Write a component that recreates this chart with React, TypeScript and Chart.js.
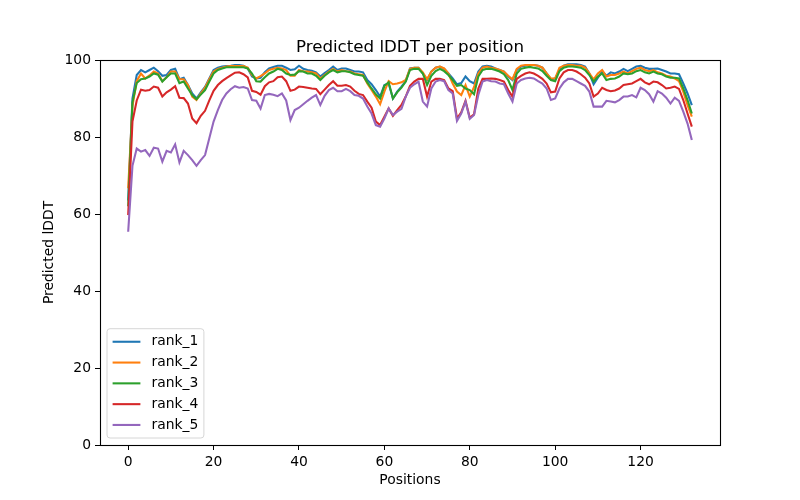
import React, { useEffect, useRef } from "react";
import { Chart, registerables } from "chart.js";

Chart.register(...registerables);

const chartTitle = "Predicted lDDT per position";
const seriesNames = ["rank_1", "rank_2", "rank_3", "rank_4", "rank_5"];
const seriesColors = ["#1f77b4", "#ff7f0e", "#2ca02c", "#d62728", "#9467bd"];

const rank1 = [
  63.5, 90, 96.1, 97.4, 96.8, 97.4, 98, 97.1, 95.9, 96.1, 97.4, 97.7, 95, 95.4, 93.5, 91.3, 90, 91.6, 93, 95.2,
  97.4, 98, 98.3, 98.4, 98.5, 98.7, 98.7, 98.5, 97.8, 95.7, 95.2, 95.4, 96.8, 97.8, 98.2, 98.5, 98.5, 98, 97.4, 97.6,
  98.5, 97.7, 97.4, 97.2, 96.8, 95.7, 96.6, 97.4, 98.3, 97.4, 97.8, 97.8, 97.4, 97, 97, 96.8, 94.8, 93.7, 92.2, 90.5,
  93.5, 93.9, 90, 91.8, 93.1, 94.5, 97.8, 98, 98, 96.5, 94.8, 97, 98, 98.3, 97.7, 96.5, 95.2, 93.7, 94, 95.7,
  94.5, 93.9, 97, 98.3, 98.5, 98.3, 97.8, 97.4, 97, 95.7, 94.8, 97.4, 98.3, 98.5, 98.7, 98.7, 98.5, 98, 96.5, 95,
  95.2, 97.4, 98.5, 98.9, 98.9, 98.9, 98.7, 98.3, 96.5, 93.7, 95.4, 97.1, 95.9, 96.8, 96.5, 97, 97.7, 97.1, 97.7, 98.3,
  98.5, 98, 97.7, 97.7, 97.8, 97.4, 97, 96.5, 96.5, 96.3, 93.9, 91.3, 88.3,
];

const rank2 = [
  66.7, 88, 94.5, 96.5, 95.2, 96, 97, 96.5, 94.5, 95.5, 97, 97, 95, 95, 93.5, 90.5, 89.6, 91.3, 92.8, 95,
  97, 97.7, 98, 98.3, 98.4, 98.4, 98.4, 98.4, 98, 96.1, 95.2, 95.8, 96.5, 97.4, 97.7, 98, 97.8, 97.4, 95.9, 95.9,
  97.4, 97.1, 97, 96.8, 96.5, 95.2, 96.1, 97, 97.7, 97, 97.4, 97.1, 97, 96.5, 96.3, 96.1, 93.9, 92.2, 90.5, 88.5,
  91.8, 94.5, 93.7, 93.9, 94.2, 94.8, 97.7, 98, 98, 96.8, 95, 97, 98, 98.3, 97.8, 96.5, 93.9, 91.8, 90.9, 93.5,
  90.5, 93, 96.5, 98, 98.3, 98, 97.8, 97.4, 97, 95.9, 95, 97.7, 98.5, 98.7, 98.7, 98.7, 98.5, 98, 96.5, 95.2,
  95.2, 98, 98.5, 98.7, 98.7, 98.5, 98.5, 98, 96.5, 95, 96.5, 97.4, 95.7, 96.1, 96.1, 96.5, 97, 96.5, 97.1, 97.7,
  98, 97.4, 97.1, 97.4, 96.8, 96.5, 95.9, 95.7, 95.2, 94.5, 91.8, 88.3, 85.3,
];

const rank3 = [
  62, 89, 94, 95, 95.2, 95.7, 96.5, 96.2, 94.4, 95.5, 96.5, 96.5, 94, 94.4, 92.6, 90.9, 89.8, 91, 92.2, 94.4,
  96.5, 97.4, 97.8, 98.1, 98.1, 98.1, 98.1, 98.1, 97.8, 96.5, 94.5, 94.4, 95.5, 96.5, 97, 97.7, 97.4, 96.5, 96.1, 96.2,
  97.1, 97, 96.5, 96.5, 95.9, 94.8, 95.9, 96.8, 97.4, 96.8, 97.1, 97.1, 96.8, 96.3, 96.1, 95.9, 94.2, 92.6, 91.1, 90,
  93.3, 94.2, 90, 91.6, 92.8, 94.4, 97.4, 97.7, 97.7, 96.5, 93.5, 95.9, 97.1, 97.7, 97.1, 96.1, 94.8, 93.3, 93.5, 92.6,
  92.2, 91.1, 95.7, 97.4, 97.7, 97.7, 97.4, 97, 96.3, 94.8, 92.2, 96.5, 97.7, 98, 98.2, 98, 97.8, 97.1, 95.9, 94.8,
  94.5, 97.1, 98, 98.3, 98.3, 98.2, 98, 97.4, 96.1, 94.4, 95.7, 96.5, 94.8, 95.1, 95.2, 95.7, 96.5, 96.3, 96.5, 97.1,
  97.4, 96.8, 96.5, 97, 96.5, 96.3, 95.7, 95.4, 95.4, 95.2, 92.6, 89.6, 86.1,
];

const rank4 = [
  59.7, 84, 89.5, 92.3, 92, 92.2, 93.1, 92.8, 90.5, 91.6, 92.3, 93.2, 90.2, 90.1, 88.7, 84.8, 83.6, 85.5, 86.8, 89.5,
  92, 93.5, 94.5, 95.3, 96, 96.7, 96.8, 96.3, 95.5, 92, 91.7, 91, 93.2, 94.2, 94.5, 95.5, 95.7, 94.5, 92, 92.3,
  93.1, 93, 92.8, 92.6, 92.5, 91.1, 92.3, 93.5, 94.5, 93.3, 93.3, 93.5, 93.1, 92, 91.2, 90.9, 89.2, 87.6, 84, 83.1,
  85.3, 87.4, 85.5, 87, 88.3, 90.5, 93.3, 94.4, 95.1, 95.1, 90.5, 94.4, 95.1, 95.1, 94.8, 92.6, 91.9, 84.8, 86.4, 89.4,
  85, 85.9, 92.6, 95.1, 95.1, 95.2, 95.1, 94.8, 94.4, 92.2, 90.5, 95.1, 95.9, 96.5, 96.8, 96.5, 95.9, 95.1, 93.9, 91.6,
  91.8, 95.2, 96.8, 97.4, 97.4, 97, 96.3, 95.4, 93.9, 90.5, 91.3, 92.8, 92.2, 91.9, 92.1, 92.6, 93.5, 93.7, 93.9, 94.5,
  95.1, 94.2, 93.7, 94.4, 94.2, 93.5, 92.6, 92.8, 93.1, 92.5, 89.6, 86.1, 82.7,
];

const rank5 = [
  55.4, 72.5, 77, 76.2, 76.6, 75.1, 77.2, 77, 73.6, 76.4, 76, 78.1, 73.4, 76.4, 75.3, 74, 72.5, 74, 75.3, 79.7,
  84, 87, 89.6, 91.3, 92.4, 93.2, 92.8, 93, 92.6, 89.6, 89.4, 87.4, 90.9, 91.2, 91, 90.6, 91.3, 89.5, 84.4, 87,
  87.6, 88.5, 89.4, 90.2, 90.9, 88.3, 90.7, 92.2, 92.8, 91.9, 91.9, 92.5, 91.9, 90.9, 90.7, 90, 87.9, 86.1, 83.1, 82.7,
  84.8, 87.4, 85.7, 86.6, 87.3, 90.5, 92.8, 93.7, 94.4, 89.2, 87.9, 92.6, 94.4, 94.8, 94.5, 92.2, 91.3, 84.2, 86.1, 89.2,
  84.7, 85.7, 90.9, 94.4, 94.8, 94.5, 94.4, 93.9, 93.7, 91.3, 89.2, 93.9, 94.8, 95.2, 95.4, 95.2, 94.5, 93.9, 92.6, 89.6,
  90, 92.6, 94.2, 95.1, 95.1, 94.5, 93.9, 93.3, 91.8, 87.9, 87.9, 87.9, 89.4, 89.2, 89, 89.6, 90.5, 90.5, 90.9, 90.3,
  92.8, 92.2, 91.1, 89.2, 91.9, 91.3, 90.2, 88.7, 90.2, 89.4, 86.6, 83.5, 79.2,
];

const seriesValues = [rank1, rank2, rank3, rank4, rank5];
const xTickValues = [0, 20, 40, 60, 80, 100, 120];
const yTickValues = [0, 20, 40, 60, 80, 100];

const FONT = "'DejaVu Sans', sans-serif";

const titlePlugin = {
  id: "mplTitle",
  afterDraw(chart: any) {
    const { ctx, chartArea: a } = chart;
    ctx.save();
    ctx.font = `16.67px ${FONT}`;
    ctx.fillStyle = "#000";
    ctx.textAlign = "center";
    ctx.textBaseline = "alphabetic";
    ctx.fillText(chartTitle, (a.left + a.right) / 2, a.top - 8.3);
    ctx.restore();
  },
};

const framePlugin = {
  id: "frame",
  afterDraw(chart: any) {
    const { ctx, chartArea: a } = chart;
    ctx.save();
    ctx.strokeStyle = "#000";
    ctx.lineWidth = 1.1;
    ctx.strokeRect(Math.round(a.left) + 0.5, Math.round(a.top) + 0.5, Math.round(a.right - a.left), Math.round(a.bottom - a.top));
    ctx.restore();
  },
};

const legendPlugin = {
  id: "mplLegend",
  afterDraw(chart: any) {
    const { ctx, chartArea: a } = chart;
    const fs = 13.89;
    const x0 = a.left + 7;
    const rowH = 20.8;
    const n = chart.data.datasets.length;
    ctx.save();
    ctx.font = `${fs}px ${FONT}`;
    let maxW = 0;
    chart.data.datasets.forEach((d: any) => {
      maxW = Math.max(maxW, ctx.measureText(d.label).width);
    });
    const pad = 5.6;
    const handleL = 27.8;
    const textPad = 11.1;
    const w = pad + handleL + textPad + maxW + pad;
    const h = pad * 2 + rowH * n - (rowH - fs) + 1;
    const y0 = a.bottom - 7 - h;
    const r = 3;
    ctx.beginPath();
    ctx.moveTo(x0 + r, y0);
    ctx.lineTo(x0 + w - r, y0);
    ctx.arcTo(x0 + w, y0, x0 + w, y0 + r, r);
    ctx.lineTo(x0 + w, y0 + h - r);
    ctx.arcTo(x0 + w, y0 + h, x0 + w - r, y0 + h, r);
    ctx.lineTo(x0 + r, y0 + h);
    ctx.arcTo(x0, y0 + h, x0, y0 + h - r, r);
    ctx.lineTo(x0, y0 + r);
    ctx.arcTo(x0, y0, x0 + r, y0, r);
    ctx.closePath();
    ctx.fillStyle = "rgba(255,255,255,0.8)";
    ctx.fill();
    ctx.strokeStyle = "#d6d6d6";
    ctx.lineWidth = 1;
    ctx.stroke();
    chart.data.datasets.forEach((d: any, i: number) => {
      const cy = y0 + pad + fs / 2 + 0.5 + i * rowH;
      ctx.beginPath();
      ctx.strokeStyle = d.borderColor;
      ctx.lineWidth = 2.08;
      ctx.moveTo(x0 + pad, cy);
      ctx.lineTo(x0 + pad + handleL, cy);
      ctx.stroke();
      ctx.fillStyle = "#000";
      ctx.textBaseline = "middle";
      ctx.textAlign = "left";
      ctx.fillText(d.label, x0 + pad + handleL + textPad, cy);
    });
    ctx.restore();
  },
};

export default function App() {
  const ref = useRef<HTMLCanvasElement>(null);
  useEffect(() => {
    document.body.style.margin = "0";
    const canvas = ref.current;
    if (!canvas) return;
    const chart = new Chart(canvas, {
      type: "line",
      data: {
        datasets: seriesNames.map((name, i) => ({
          label: name,
          data: seriesValues[i].map((v, k) => ({ x: k, y: v })),
          borderColor: seriesColors[i],
          backgroundColor: seriesColors[i],
          borderWidth: 2.08,
          pointRadius: 0,
          tension: 0,
          fill: false,
          order: seriesNames.length - i,
        })),
      },
      options: {
        responsive: false,
        animation: false,
        events: [],
        layout: { padding: { left: 0, right: 80, top: 60, bottom: 0 } },
        plugins: {
          legend: { display: false },
          tooltip: { enabled: false },
          title: { display: false },
        },
        scales: {
          x: {
            type: "linear",
            min: -6.6,
            max: 138.6,
            afterFit: (s: any) => {
              s.height = 55;
            },
            afterBuildTicks: (s: any) => {
              s.ticks = xTickValues.map((v) => ({ value: v }));
            },
            ticks: {
              color: "#000",
              font: { family: FONT, size: 13.89 },
              padding: 4,
              maxRotation: 0,
              autoSkip: false,
            },
            grid: { display: true, drawOnChartArea: false, drawTicks: true, tickLength: 5, color: "#000", lineWidth: 1 },
            border: { display: false },
            title: {
              display: true,
              text: "Positions",
              color: "#000",
              font: { family: FONT, size: 13.89, lineHeight: 1.2 },
              padding: { top: 0, bottom: 11 },
            },
          },
          y: {
            type: "linear",
            min: 0,
            max: 100,
            afterFit: (s: any) => {
              s.width = 100;
            },
            afterBuildTicks: (s: any) => {
              s.ticks = yTickValues.map((v) => ({ value: v }));
            },
            ticks: {
              color: "#000",
              font: { family: FONT, size: 13.89 },
              padding: 4,
              autoSkip: false,
            },
            grid: { display: true, drawOnChartArea: false, drawTicks: true, tickLength: 5, color: "#000", lineWidth: 1 },
            border: { display: false },
            title: {
              display: true,
              text: "Predicted lDDT",
              color: "#000",
              font: { family: FONT, size: 13.89, lineHeight: 1.2 },
              padding: { top: 41, bottom: 0 },
            },
          },
        },
      },
      plugins: [framePlugin, legendPlugin, titlePlugin],
    });
    return () => chart.destroy();
  }, []);
  return (
    <div style={{ position: "absolute", left: 0, top: 0, width: 800, height: 500, background: "#fff" }}>
      <canvas ref={ref} width={800} height={500} style={{ display: "block", width: 800, height: 500 }} />
    </div>
  );
}
